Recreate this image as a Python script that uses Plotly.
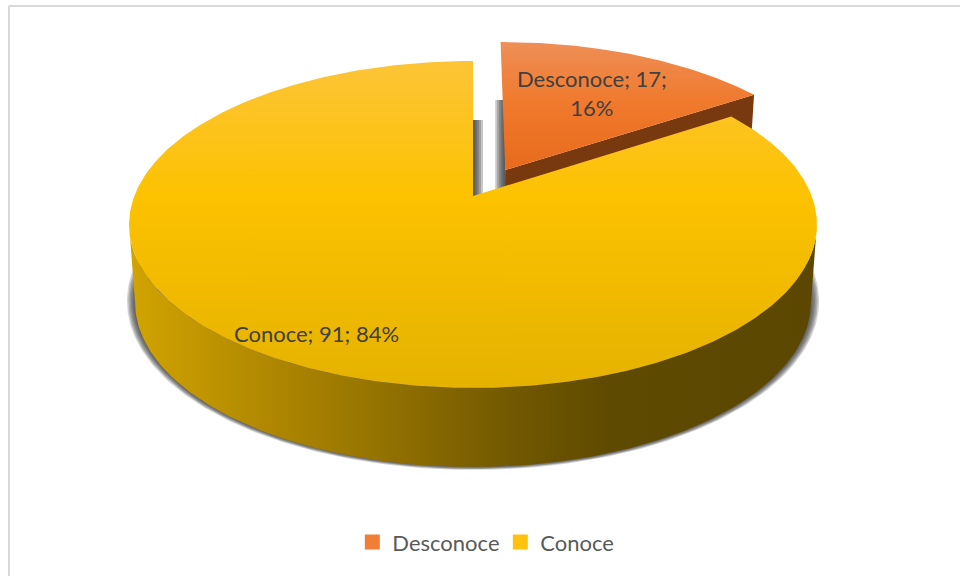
import numpy as np
import plotly.graph_objects as go

# Data
categories = ["Desconoce", "Conoce"]
values = [17, 91]
total = sum(values)
percents = [round(v / total * 100) for v in values]
labels = [f"{c}; {v}; {p}%" for c, v, p in zip(categories, values, percents)]
labels[0] = f"{categories[0]}; {values[0]};<br>{percents[0]}%"

# Perspective projection of the pie disc onto the page (pixel-scaled axes)
CX, CY = 473.0, 224.5
K = 0.174
TOP = dict(a=338.7, b=163.5, c=28.5)
LOW = dict(a=332.8, b=151.5, c=-48.8)
EXPLODE = (0.098, 0.169)


def project(X, Y, plane, scale=1.0, dy=0.0):
    d = 1 + K * Y
    x = CX + scale * plane["a"] * X / d
    y = CY - (scale * plane["b"] * Y + plane["c"]) / d + dy
    return x, y


def rim(t0, t1, plane, shift=(0, 0), n=220, scale=1.0, dy=0.0):
    t = np.linspace(t0, t1, n)
    return project(np.sin(t) + shift[0], np.cos(t) + shift[1], plane, scale, dy)


def centre(plane, shift=(0, 0)):
    x, y = project(np.array([shift[0]]), np.array([shift[1]]), plane)
    return x, y


end_first = 2 * np.pi * values[0] / total
fig = go.Figure()


def poly(x, y, **kw):
    fig.add_trace(go.Scatter(x=list(x), y=list(y), mode="lines", line=dict(width=0),
                             fill="toself", hoverinfo="skip", showlegend=False, **kw))


def grad(kind, start, stop, stops):
    return dict(type=kind, start=start, stop=stop, colorscale=stops)


t1 = np.arccos(-K)

# Soft shadow beneath the disc (front part only, the rest is hidden by the disc)
for s, dy in [(1.024, -1.5), (1.020, -1.5), (1.016, -1.2), (1.012, -1), (1.008, -0.8), (1.004, -0.5)]:
    x, y = rim(t1 - 0.25, 2 * np.pi - t1 + 0.25, LOW, scale=s, dy=dy)
    poly(x, y, fillcolor="rgba(60,60,60,0.22)")

# Cut face of the exploded slice
tx, ty = rim(end_first, end_first, TOP, EXPLODE, n=1)
bx, by = rim(end_first, end_first, LOW, EXPLODE, n=1)
cx0, cy0 = centre(TOP, EXPLODE)
cx1, cy1 = centre(LOW, EXPLODE)
poly([cx0[0], tx[0], bx[0], cx1[0]], [cy0[0], ty[0], by[0], cy1[0]], fillcolor="#78390F")

# Shadows inside the gap between the slices: stacked strips, darkest at the slice edge
ycx, ycy = centre(TOP)
for w in [10, 8, 6, 4, 2]:
    poly([ycx[0], ycx[0] + w, ycx[0] + w, ycx[0]], [120, 120, ycy[0], ycy[0]],
         fillcolor="rgba(50,50,50,0.27)")
    poly([cx0[0] - w, cx0[0], cx0[0], cx0[0] - w], [100, 100, cy0[0] + 20, cy0[0] + 20],
         fillcolor="rgba(50,50,50,0.27)")

# Exploded slice, top face
x, y = rim(0, end_first, TOP, EXPLODE)
poly(np.r_[cx0, x, cx0], np.r_[cy0, y, cy0],
     fillgradient=grad("vertical", 41, 172,
                       [[0, "#EE8F58"], [0.45, "#F07A2E"], [1, "#E86A1B"]]))

# Main slice, wall
ux, uy = rim(t1, 2 * np.pi - t1, TOP)
lx, ly = rim(t1, 2 * np.pi - t1, LOW)
poly(np.r_[ux, lx[::-1], ux[0]], np.r_[uy, ly[::-1], uy[0]],
     fillgradient=grad("horizontal", 129, 816,
                       [[0, "#D2A400"], [0.2, "#B08800"], [0.4, "#8E6E00"],
                        [0.55, "#735900"], [0.7, "#5E4A00"], [1, "#5B4700"]]))

# Main slice, top face
x, y = rim(end_first, 2 * np.pi, TOP, n=500)
poly(np.r_[ycx, x, ycx], np.r_[ycy, y, ycy],
     fillgradient=grad("vertical", 61, 388,
                       [[0, "#FDC437"], [0.42, "#FCC200"], [1, "#E5B200"]]))

# Legend entries
legend_colors = ["#F27D36", "#FFC20E"]
for c, col in zip(categories, legend_colors):
    fig.add_trace(go.Scatter(x=[None], y=[None], mode="markers", name=c,
                             marker=dict(symbol="square", size=15, color=col)))

fig.add_annotation(x=592, y=93, text=labels[0], showarrow=False, xref="x", yref="y",
                   font=dict(family="Lato", size=22, color="#404040"))
fig.add_annotation(x=316, y=333, text=labels[1], showarrow=False, xref="x", yref="y",
                   font=dict(family="Lato", size=22, color="#404040"))

frame = dict(type="line", xref="x", yref="y", line=dict(color="#D9D9D9", width=2), layer="below")
fig.add_shape(x0=9, x1=960, y0=6, y1=6, **frame)
fig.add_shape(x0=9, x1=9, y0=6, y1=576, **frame)

fig.update_layout(
    width=960, height=576, margin=dict(l=0, r=0, t=0, b=0),
    paper_bgcolor="white", plot_bgcolor="white",
    xaxis=dict(range=[0, 960], visible=False, fixedrange=True),
    yaxis=dict(range=[576, 0], visible=False, fixedrange=True),
    legend=dict(orientation="h", x=0.367, xanchor="left", y=0.0585, yanchor="middle",
                font=dict(family="Lato", size=22, color="#595959"),
                itemwidth=30, traceorder="normal", entrywidth=103, entrywidthmode="pixels"),
    font=dict(family="Lato"),
)
fig.write_html("out.html", config=dict(displayModeBar=False),
               post_script="document.body.style.margin='0';document.body.style.overflow='hidden';")
